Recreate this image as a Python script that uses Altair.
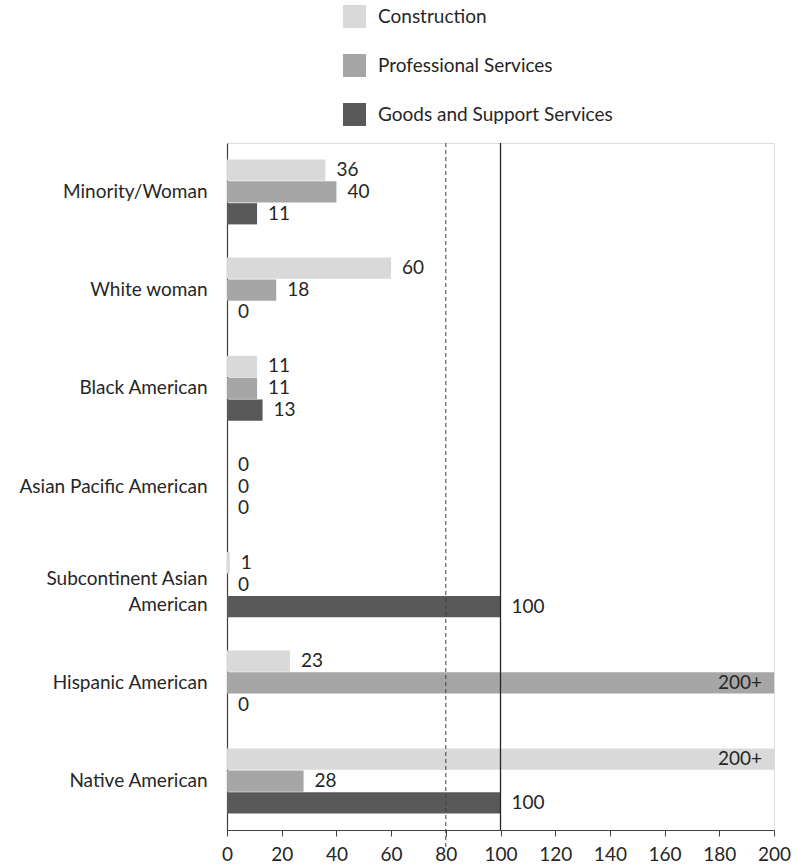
import altair as alt
import pandas as pd

# Group names (y axis) and the three contract sectors
categories = [
    "Minority/Woman",
    "White woman",
    "Black American",
    "Asian Pacific American",
    "Subcontinent Asian American",
    "Hispanic American",
    "Native American",
]
sectors = ["Construction", "Professional Services", "Goods and Support Services"]
sector_colors = ["#d9d9d9", "#a6a6a6", "#595959"]

# Disparity index per group, as labelled; "200+" is drawn at the 200 cap
construction_labels = ["36", "60", "11", "0", "1", "23", "200+"]
professional_labels = ["40", "18", "11", "0", "0", "200+", "28"]
goods_labels = ["11", "0", "13", "0", "100", "0", "100"]

x_ticks = [0, 20, 40, 60, 80, 100, 120, 140, 160, 180, 200]
x_max = 200
threshold_dashed = 80
threshold_solid = 100

rows = []
for sector, labels in zip(sectors, [construction_labels, professional_labels, goods_labels]):
    for cat, lab in zip(categories, labels):
        capped = lab.endswith("+")
        rows.append({
            "group": cat,
            "sector": sector,
            "value": float(lab.rstrip("+")),
            "label": lab,
            "capped": capped,
        })
df = pd.DataFrame(rows)

FONT = "Lato"
FS = 19
TEXT_COLOR = "#262626"
W, H = 547, 687

y_enc = alt.Y(
    "group:N",
    sort=categories,
    title=None,
    scale=alt.Scale(paddingInner=0.338, paddingOuter=0.167),
    axis=alt.Axis(
        ticks=False,
        labelPadding=20,
        labelFontSize=FS,
        labelFont=FONT,
        labelColor=TEXT_COLOR,
        labelLimit=300,
        domainColor="#404040",
        domainWidth=1.2,
        labelExpr="datum.value == 'Subcontinent Asian American' ? ['Subcontinent Asian', 'American'] : datum.label",
        labelLineHeight=26,
        labelOffset={
            "condition": {"test": "datum.value == 'Subcontinent Asian American'", "value": -6},
            "value": 0,
        },
    ),
)
yoff_enc = alt.YOffset("sector:N", sort=sectors, scale=alt.Scale(paddingInner=0.03))
x_enc = alt.X(
    "value:Q",
    title=None,
    scale=alt.Scale(domain=[0, x_max], nice=False),
    axis=alt.Axis(
        values=x_ticks,
        grid=False,
        tickSize=6,
        tickColor="#404040",
        domainColor="#404040",
        domainWidth=1.2,
        labelFontSize=FS,
        labelFont=FONT,
        labelColor=TEXT_COLOR,
        labelPadding=9,
        labelFlush=False,
    ),
)

base = alt.Chart(df)

bars = base.mark_bar(clip=True).encode(
    x=x_enc,
    y=y_enc,
    yOffset=yoff_enc,
    color=alt.Color(
        "sector:N",
        sort=sectors,
        scale=alt.Scale(domain=sectors, range=sector_colors),
        legend=alt.Legend(
            title=None,
            orient="none",
            legendX=116,
            legendY=-138,
            direction="vertical",
            symbolType="square",
            symbolSize=529,
            symbolStrokeWidth=0,
            labelFontSize=FS,
            labelFont=FONT,
            labelColor=TEXT_COLOR,
            labelOffset=12,
            rowPadding=26,
            labelLimit=400,
        ),
    ),
)

labels_out = base.transform_filter("!datum.capped").mark_text(
    align="left", baseline="middle", dx=11, fontSize=FS, font=FONT, color=TEXT_COLOR
).encode(
    x="value:Q",
    y=alt.Y("group:N", sort=categories),
    yOffset=alt.YOffset("sector:N", sort=sectors),
    text="label:N",
)

labels_in = base.transform_filter("datum.capped").mark_text(
    align="right", baseline="middle", dx=-12, fontSize=FS, font=FONT, color=TEXT_COLOR
).encode(
    x="value:Q",
    y=alt.Y("group:N", sort=categories),
    yOffset=alt.YOffset("sector:N", sort=sectors),
    text="label:N",
)

dashed = alt.Chart(pd.DataFrame({"x": [threshold_dashed]})).mark_rule(
    color="#404040", strokeDash=[4, 3], strokeWidth=1
).encode(x="x:Q", y=alt.value(0), y2=alt.value(H + 20))
solid = alt.Chart(pd.DataFrame({"x": [threshold_solid]})).mark_rule(
    color="#262626", strokeWidth=1.3
).encode(x="x:Q", y=alt.value(0), y2=alt.value(H))

chart = (
    alt.layer(bars, dashed, solid, labels_out, labels_in)
    .properties(
        width=W,
        height=H,
        autosize=alt.AutoSizeParams(type="none"),
        padding={"left": 227, "top": 143, "right": 23, "bottom": 37},
    )
    .configure_view(stroke="#404040", strokeWidth=1.2)
    .configure(background="white")
)

chart.save("out.html", embed_options={"renderer": "svg", "actions": False})
